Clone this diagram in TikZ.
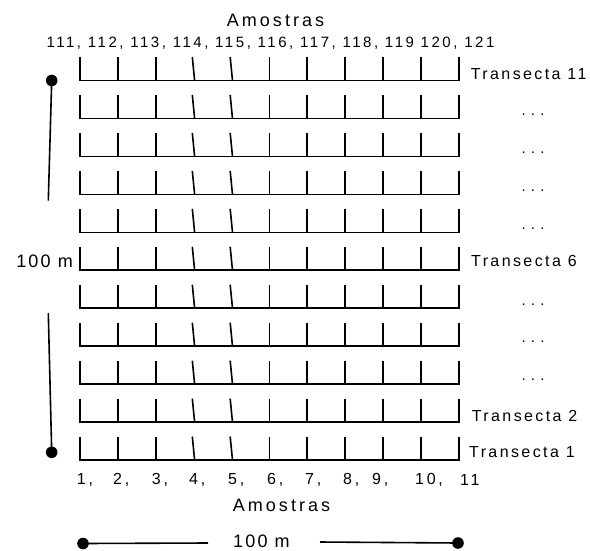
\documentclass[tikz,border=0pt]{standalone}
\usepackage{fontspec}
\setmainfont{Liberation Sans}
\newfontfamily\lblA[LetterSpace=17]{Liberation Sans}
\newfontfamily\lblB[LetterSpace=15]{Liberation Sans}
\newfontfamily\lblC[LetterSpace=17]{Liberation Sans}
\newfontfamily\lblM[LetterSpace=12]{Liberation Sans}
\newfontfamily\lblD[LetterSpace=35]{Liberation Sans}
\begin{document}
\begin{tikzpicture}[x=1pt,y=-1pt,
  gridline/.style={line width=1.6pt, line join=miter},
  scaleline/.style={line width=1.6pt},
  dot/.style={circle, fill=black, inner sep=0pt, minimum size=11.6pt},
  txt/.style={inner sep=0pt, font=\lblA\fontsize{15}{17}\selectfont},
  btxt/.style={inner sep=0pt, font=\lblA\fontsize{16}{18}\selectfont},
  dotstxt/.style={inner sep=0pt, font=\lblD\fontsize{15}{17}\selectfont},
  bigtxt/.style={inner sep=0pt, font=\lblB\fontsize{16}{18}\selectfont},
  mtxt/.style={inner sep=0pt, text depth=0pt, font=\lblM\fontsize{18}{20}\selectfont},
  headtxt/.style={inner sep=0pt, font=\lblC\fontsize{18}{20}\selectfont}
]
\useasboundingbox (0,0) rectangle (590,550);

% grid of transects
\foreach \i in {0,...,10}{
  \pgfmathsetmacro{\yy}{80.5+37.95*\i}
  \pgfmathsetmacro{\yt}{\yy-23.5}
  \draw[gridline] (80,\yt) -- (80,\yy) -- (458.7,\yy) -- (458.7,\yt);
  \foreach \k in {1,2,5,6,7,8,9}{
    \pgfmathsetmacro{\xx}{80+37.87*\k}
    \draw[gridline] (\xx,\yt) -- (\xx,\yy);
  }
  \foreach \k in {3,4}{
    \pgfmathsetmacro{\xa}{80+37.87*\k-1.3}
    \pgfmathsetmacro{\xb}{80+37.87*\k+1}
    \draw[gridline] (\xa,\yt) -- (\xb,\yy);
  }
}

% top labels
\node[headtxt] (amtop) at (275.5,20) {Amostras};
\node[txt] (numtop) at (270.5,43) {111, 112, 113, 114, 115, 116, 117, 118, 119 120, 121};

% right labels
\node[bigtxt, anchor=west] (t11) at (470.7,74) {Transecta 11};
\node[bigtxt, anchor=west] (t6) at (471,261) {Transecta 6};
\node[bigtxt, anchor=west] (t2) at (471.7,415.7) {Transecta 2};
\node[bigtxt, anchor=west] (t1) at (469,451.7) {Transecta 1};
\foreach \i/\nm in {1/e10,2/e9,3/e8,4/e7,6/e5,7/e4,8/e3}{
  \pgfmathsetmacro{\yy}{80.5+37.95*\i-4}
  \node[dotstxt] (\nm) at (533,\yy) {...};
}

% left label
\node[mtxt, anchor=east] (hleft) at (73,261) {100 m};

% bottom numbers
\foreach \x/\t/\nm in {76.7/{1,}/n1, 113/{2,}/n2, 151.7/{3,}/n3, 189/{4,}/n4, 228/{5,}/n5, 267/{6,}/n6, 305/{7,}/n7, 343/{8,}/n8, 372/{9,}/n9, 415/{10,}/n10, 460/{11}/n11}{
  \node[btxt, anchor=west] (\nm) at (\x,480) {\t};
}
\node[headtxt] (ambot) at (281.5,505) {Amostras};
\node[mtxt, anchor=base west] (hbot) at (233,547.5) {100 m};

% scale bars
\node[dot] (dA) at (51.7,80.5) {};
\node[dot] (dB) at (51.7,452.3) {};
\coordinate (cA) at (48.3,200.7);
\coordinate (cB) at (48.3,313);
\draw[scaleline] (dA.center) -- (cA);
\draw[scaleline] (cB) -- (dB.center);

\node[dot] (dC) at (83,543.5) {};
\node[dot] (dD) at (458,543) {};
\coordinate (cC) at (208,543);
\coordinate (cD) at (320,542);
\draw[scaleline] (dC.center) -- (cC);
\draw[scaleline] (cD) -- (dD.center);
\end{tikzpicture}
\end{document}
